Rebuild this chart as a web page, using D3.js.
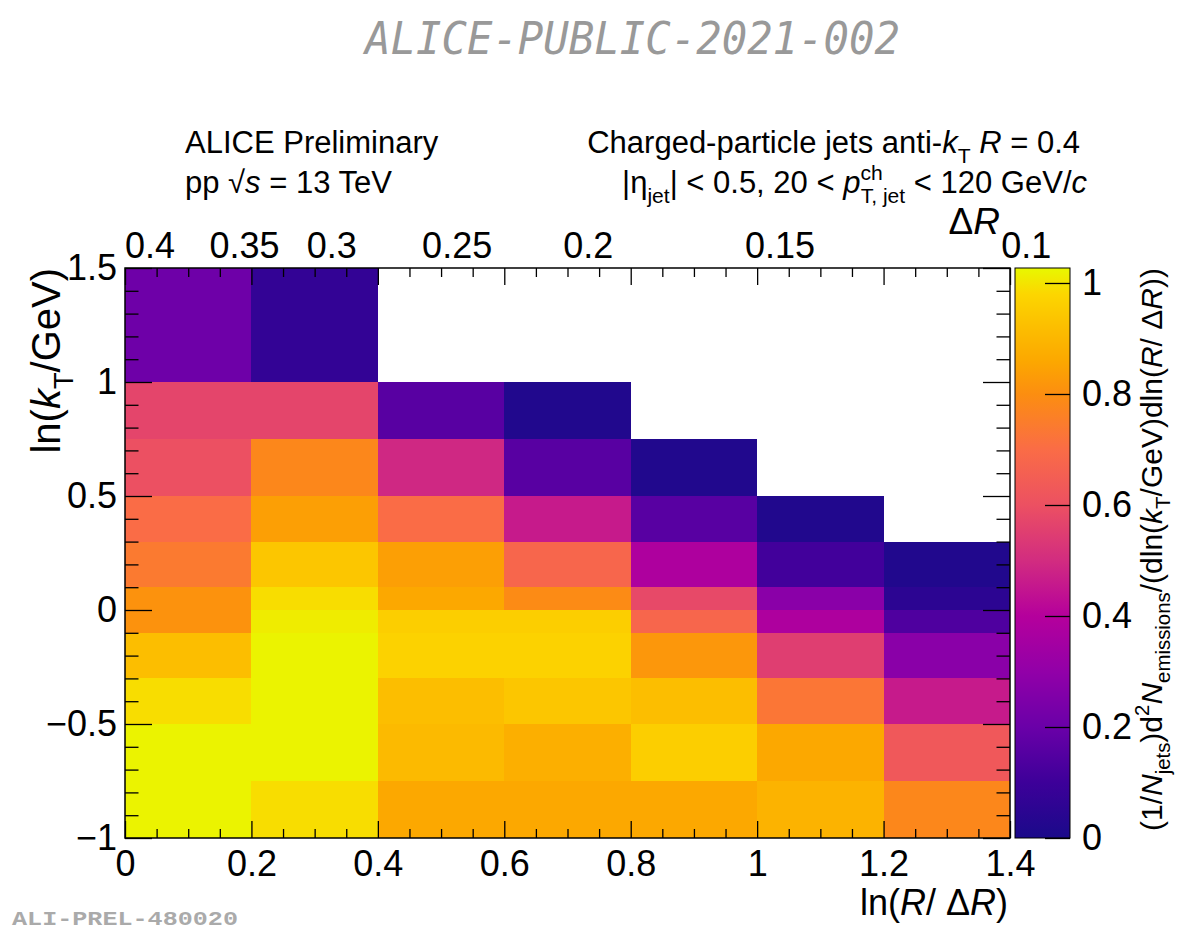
<!DOCTYPE html>
<html><head><meta charset="utf-8">
<script src="https://cdn.jsdelivr.net/npm/d3@7"></script>
<style>body{margin:0;background:#fff}svg{display:block}</style>
</head><body>
<svg id="c" width="1179" height="931"></svg>
<script>
// ---- data ----
const xEdges = [0, 0.2, 0.4, 0.6, 0.8, 1.0, 1.2, 1.4];            // ln(R/ΔR) bin edges
const yEdges = [-1, -0.75, -0.5, -0.3, -0.1, 0, 0.1, 0.3, 0.5, 0.75, 1.0, 1.5]; // ln(kT/GeV) bin edges
// density per ln(kT) bin (bottom -> top), each row over the 7 ln(R/ΔR) bins; null = empty
const row_m1_m075  = [1.02, 0.99, 0.86, 0.86, 0.86, 0.89, 0.78];
const row_m075_m05 = [1.02, 1.02, 0.91, 0.88, 0.96, 0.86, 0.63];
const row_m05_m03  = [0.99, 1.02, 0.92, 0.94, 0.92, 0.73, 0.46];
const row_m03_m01  = [0.92, 1.02, 0.97, 0.97, 0.82, 0.55, 0.28];
const row_m01_0    = [0.81, 1.01, 0.96, 0.96, 0.68, 0.38, 0.14];
const row_0_01     = [0.81, 0.99, 0.86, 0.79, 0.58, 0.28, 0.05];
const row_01_03    = [0.74, 0.94, 0.84, 0.68, 0.38, 0.11, 0.02];
const row_03_05    = [0.70, 0.84, 0.70, 0.46, 0.16, 0.02, null];
const row_05_075   = [0.60, 0.78, 0.49, 0.16, 0.02, null, null];
const row_075_1    = [0.57, 0.57, 0.16, 0.02, null, null, null];
const row_1_15     = [0.21, 0.07, null, null, null, null, null];
const rows = [row_m1_m075, row_m075_m05, row_m05_m03, row_m03_m01, row_m01_0, row_0_01,
              row_01_03, row_03_05, row_05_075, row_075_1, row_1_15];
const xTickLabels = [0, 0.2, 0.4, 0.6, 0.8, 1, 1.2, 1.4];
const yTickLabels = [-1, -0.5, 0, 0.5, 1, 1.5];
const zTickLabels = [0, 0.2, 0.4, 0.6, 0.8, 1];
const dRTickLabels = [0.4, 0.35, 0.3, 0.25, 0.2, 0.15, 0.1];
const jetR = 0.4;
const zMax = 1.027;
// palette (value -> colour)
const paletteVals = [0, 0.1, 0.2, 0.3, 0.4, 0.5, 0.6, 0.7, 0.8, 0.86, 0.92, 0.98, 1.027];
const paletteCols = ["#1a0a8a", "#3d0099", "#6a00a8", "#9200a8", "#b5009c", "#d22c80", "#ec5062",
                     "#fa6c46", "#fc8e10", "#fca800", "#fcbe00", "#fcd600", "#e8f800"];

// ---- drawing ----
const svg = d3.select("#c");
const FONT = "'Liberation Sans', Arial, Helvetica, sans-serif";
const L = 125, R = 1010, T = 268, B = 838;
const xs = d3.scaleLinear().domain([0, 1.4]).range([L, R]);
const ys = d3.scaleLinear().domain([-1, 1.5]).range([B, T]);
const zc = d3.scaleLinear().domain(paletteVals).range(paletteCols).interpolate(d3.interpolateRgb).clamp(true);
const zs = d3.scaleLinear().domain([0, zMax]).range([B, T]);

function rich(sel, parts, base, subShift) {
  let shift = 0;
  const sd = subShift === undefined ? 0.32 : subShift;
  parts.forEach(p => {
    const target = p.sub ? base * sd : p.sup ? -base * 0.42 : 0;
    const ts = sel.append("tspan").text(p.t).attr("dy", target - shift);
    shift = target;
    if (p.sub || p.sup) ts.attr("font-size", base * (p.sc || 0.68));
    if (p.it) ts.attr("font-style", "italic");
    if (p.dx !== undefined) ts.attr("dx", p.dx);
  });
}

// header watermark
svg.append("text").attr("x", 365).attr("y", 54)
  .attr("font-family", "'DejaVu Sans Mono', monospace").attr("font-style", "italic")
  .attr("font-size", 44).attr("fill", "#999").attr("textLength", 535).attr("lengthAdjust", "spacingAndGlyphs")
  .text("ALICE-PUBLIC-2021-002");
svg.append("text").attr("x", 12).attr("y", 925)
  .attr("font-family", "'Liberation Mono', 'Courier New', monospace").attr("font-weight", "bold")
  .attr("font-size", 21).attr("fill", "#aaa").attr("textLength", 226).attr("lengthAdjust", "spacingAndGlyphs")
  .text("ALI-PREL-480020");

// cells
const cells = [];
rows.forEach((row, j) => row.forEach((v, i) => {
  if (v !== null) cells.push({x0: xEdges[i], x1: xEdges[i + 1], y0: yEdges[j], y1: yEdges[j + 1], v});
}));
svg.append("g").selectAll("rect").data(cells).join("rect")
  .attr("x", d => xs(d.x0)).attr("width", d => xs(d.x1) - xs(d.x0))
  .attr("y", d => ys(d.y1)).attr("height", d => ys(d.y0) - ys(d.y1))
  .attr("fill", d => zc(d.v)).attr("shape-rendering", "crispEdges");

// axes
function styleAxis(g, size) {
  g.select(".domain").remove();
  g.selectAll("line").attr("stroke", "#000").attr("stroke-width", 1.3);
  g.selectAll("text").attr("font-family", FONT).attr("font-size", size).attr("fill", "#000");
}
const xMinor = d3.range(0, 1.4001, 0.05).filter(v => Math.abs(v / 0.2 - Math.round(v / 0.2)) > 1e-6);
const yMinor = d3.range(-1, 1.5001, 0.1).filter(v => Math.abs(v / 0.5 - Math.round(v / 0.5)) > 1e-6);
const fmt = d3.format("~g");

svg.append("g").attr("transform", `translate(0,${B})`)
  .call(d3.axisBottom(xs).tickValues(xTickLabels).tickSize(-17).tickPadding(12).tickFormat(fmt))
  .call(g => styleAxis(g, 36));
svg.append("g").attr("transform", `translate(0,${B})`)
  .call(d3.axisBottom(xs).tickValues(xMinor).tickSize(-9).tickFormat(""))
  .call(g => styleAxis(g, 36));
svg.append("g").attr("transform", `translate(0,${T})`)
  .call(d3.axisTop(xs).tickValues(xTickLabels).tickSize(-17).tickFormat(""))
  .call(g => styleAxis(g, 36));
svg.append("g").attr("transform", `translate(0,${T})`)
  .call(d3.axisTop(xs).tickValues(xMinor).tickSize(-9).tickFormat(""))
  .call(g => styleAxis(g, 36));

svg.append("g").attr("transform", `translate(${L},0)`)
  .call(d3.axisLeft(ys).tickValues(yTickLabels).tickSize(-27).tickPadding(8).tickFormat(fmt))
  .call(g => styleAxis(g, 36));
svg.append("g").attr("transform", `translate(${L},0)`)
  .call(d3.axisLeft(ys).tickValues(yMinor).tickSize(-13.5).tickFormat(""))
  .call(g => styleAxis(g, 36));
svg.append("g").attr("transform", `translate(${R},0)`)
  .call(d3.axisRight(ys).tickValues(yTickLabels).tickSize(-27).tickFormat(""))
  .call(g => styleAxis(g, 36));
svg.append("g").attr("transform", `translate(${R},0)`)
  .call(d3.axisRight(ys).tickValues(yMinor).tickSize(-13.5).tickFormat(""))
  .call(g => styleAxis(g, 36));

// frame
svg.append("rect").attr("x", L).attr("y", T).attr("width", R - L).attr("height", B - T)
  .attr("fill", "none").attr("stroke", "#000").attr("stroke-width", 1.5);

// top ΔR labels
svg.append("g").selectAll("text").data(dRTickLabels).join("text")
  .attr("x", d => xs(Math.log(jetR / d))).attr("y", 258)
  .attr("font-family", FONT).attr("font-size", 36).attr("text-anchor", "start")
  .text(d => fmt(d));
const dRt = svg.append("text").attr("x", 1000).attr("y", 234).attr("text-anchor", "end")
  .attr("font-family", FONT).attr("font-size", 37);
rich(dRt, [{t: "Δ"}, {t: "R", it: true}], 37);

// colour bar
const CL = 1015, CR = 1070;
const grad = svg.append("defs").append("linearGradient").attr("id", "zg")
  .attr("x1", 0).attr("y1", 1).attr("x2", 0).attr("y2", 0);
grad.selectAll("stop").data(paletteVals).join("stop")
  .attr("offset", d => d / zMax).attr("stop-color", d => zc(d));
svg.append("rect").attr("x", CL).attr("y", T).attr("width", CR - CL).attr("height", B - T)
  .attr("fill", "url(#zg)").attr("stroke", "#000").attr("stroke-width", 1);
svg.append("g").attr("transform", `translate(${CR},0)`)
  .call(d3.axisRight(zs).tickValues(zTickLabels).tickSize(-25).tickPadding(12).tickFormat(fmt))
  .call(g => styleAxis(g, 36));

// axis titles
const xt = svg.append("text").attr("x", 1008).attr("y", 915).attr("text-anchor", "end")
  .attr("font-family", FONT).attr("font-size", 36);
rich(xt, [{t: "ln("}, {t: "R", it: true}, {t: "/ Δ"}, {t: "R", it: true}, {t: ")"}], 36);

const yt = svg.append("text").attr("transform", `translate(60,${T}) rotate(-90)`).attr("text-anchor", "end")
  .attr("font-family", FONT).attr("font-size", 40);
rich(yt, [{t: "ln("}, {t: "k", it: true}, {t: "T", sub: true}, {t: "/GeV)"}], 40);

const zt = svg.append("text").attr("transform", `translate(1162,${T}) rotate(-90)`).attr("text-anchor", "end")
  .attr("font-family", FONT).attr("font-size", 30);
rich(zt, [{t: "(1/"}, {t: "N", it: true}, {t: "jets", sub: true}, {t: ")d"}, {t: "2", sup: true},
          {t: "N", it: true}, {t: "emissions", sub: true}, {t: "/(dln("}, {t: "k", it: true},
          {t: "T", sub: true}, {t: "/GeV)dln("}, {t: "R", it: true}, {t: "/ Δ"}, {t: "R", it: true}, {t: "))"}], 30, 0.25);

// labels
const fs = 31;
svg.append("text").attr("x", 185).attr("y", 153).attr("font-family", FONT).attr("font-size", fs)
  .text("ALICE Preliminary");
const t2 = svg.append("text").attr("x", 185).attr("y", 193).attr("font-family", FONT).attr("font-size", fs);
rich(t2, [{t: "pp √"}, {t: "s", it: true}, {t: " = 13 TeV"}], fs);

const t3 = svg.append("text").attr("x", 1080).attr("y", 153).attr("text-anchor", "end")
  .attr("font-family", FONT).attr("font-size", fs);
rich(t3, [{t: "Charged-particle jets anti-"}, {t: "k", it: true}, {t: "T", sub: true}, {t: "  "},
          {t: "R", it: true}, {t: " = 0.4"}], fs);
const t4 = svg.append("text").attr("x", 1087).attr("y", 193).attr("text-anchor", "end")
  .attr("font-family", FONT).attr("font-size", fs);
rich(t4, [{t: "|η"}, {t: "jet", sub: true}, {t: "| < 0.5, 20 < "}, {t: "p", it: true},
          {t: "ch", sup: true}, {t: "T, jet", sub: true, dx: -22}, {t: " < 120 GeV/"}, {t: "c", it: true}], fs);
</script>
</body></html>
